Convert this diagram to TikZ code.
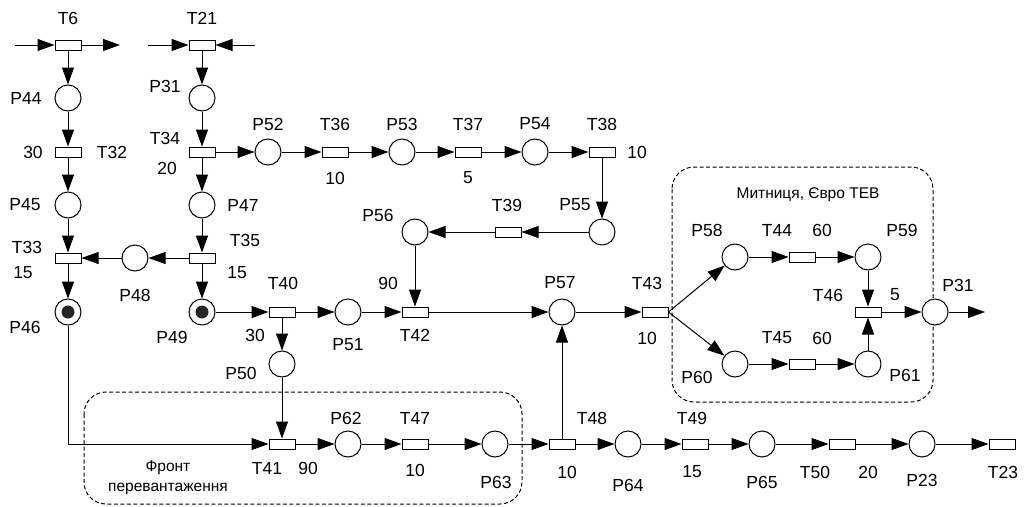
\documentclass[tikz,border=0pt]{standalone}
\usepackage{fontspec}
\setmainfont{Liberation Sans}
\usetikzlibrary{arrows.meta}
\tikzset{
  pn place/.style={
    circle,
    draw,
    fill=white,
    line width=1pt,
    minimum size=26pt,
    inner sep=0pt,
  },
  pn marked/.style={
    pn place,
    path picture={\fill[black!85] (path picture bounding box.center) circle (6.5pt);},
  },
  pn transition/.style={
    rectangle,
    draw,
    fill=white,
    line width=1pt,
    minimum width=26pt,
    minimum height=10pt,
    inner sep=0pt,
  },
  pn arc/.style={-{Triangle[length=17pt,width=12pt]}, line width=1pt},
  pn line/.style={line width=1pt},
  pn text/.style={font=\fontsize{17.5}{20}\selectfont, inner sep=0pt},
  pn note/.style={font=\fontsize{15.5}{20}\selectfont, align=center, inner sep=0pt},
  pn region/.style={line width=1pt, dash pattern=on 4pt off 2.5pt, rounded corners=22pt},
}

\begin{document}
\begin{tikzpicture}[x=1pt,y=-1pt]
  \useasboundingbox (0,0) rectangle (1024,506);

  \draw[pn region] (84,392) rectangle (522,504);
  \draw[pn region] (672,167) rectangle (933,402);
  \node[pn note] (front) at (168,478) {Фронт\\перевантаження};
  \node[pn note] (customs) at (808,195) {Митниця, Євро ТЕВ};

  \node[pn transition] (t6) at (68,45) {};
  \node[pn transition] (t21) at (202,45) {};
  \coordinate (t6in) at (15,45);
  \coordinate (t6out) at (120,45);
  \coordinate (t21inl) at (148,45);
  \coordinate (t21inr) at (255,45);

  \node[pn place] (p44) at (68,98) {};
  \node[pn transition] (t32) at (68,152) {};
  \node[pn place] (p45) at (68,205) {};
  \node[pn transition] (t33) at (68,258) {};
  \node[pn marked] (p46) at (68,312) {};

  \node[pn place] (p31a) at (202,98) {};
  \node[pn transition] (t34) at (202,152) {};
  \node[pn place] (p47) at (202,205) {};
  \node[pn transition] (t35) at (202,258) {};
  \node[pn marked] (p49) at (202,312) {};
  \node[pn place] (p48) at (135,258) {};

  \node[pn place] (p52) at (268,152) {};
  \node[pn transition] (t36) at (335,152) {};
  \node[pn place] (p53) at (402,152) {};
  \node[pn transition] (t37) at (468,152) {};
  \node[pn place] (p54) at (535,152) {};
  \node[pn transition] (t38) at (602,152) {};
  \node[pn place] (p55) at (602,232) {};
  \node[pn transition] (t39) at (508,232) {};
  \node[pn place] (p56) at (415,232) {};

  \node[pn transition] (t40) at (282,312) {};
  \node[pn place] (p51) at (348,312) {};
  \node[pn transition] (t42) at (415,312) {};
  \node[pn place] (p57) at (562,312) {};
  \node[pn transition] (t43) at (655,312) {};
  \node[pn place] (p50) at (282,364) {};

  \node[pn place] (p58) at (735,257) {};
  \node[pn transition] (t44) at (802,257) {};
  \node[pn place] (p59) at (868,257) {};
  \node[pn place] (p60) at (735,364) {};
  \node[pn transition] (t45) at (802,364) {};
  \node[pn place] (p61) at (868,364) {};
  \node[pn transition] (t46) at (868,312) {};
  \node[pn place] (p31b) at (935,312) {};
  \coordinate (p31out) at (985,312);

  \node[pn transition] (t41) at (282,444) {};
  \node[pn place] (p62) at (348,444) {};
  \node[pn transition] (t47) at (415,444) {};
  \node[pn place] (p63) at (495,444) {};
  \node[pn transition] (t48) at (562,444) {};
  \node[pn place] (p64) at (628,444) {};
  \node[pn transition] (t49) at (695,444) {};
  \node[pn place] (p65) at (762,444) {};
  \node[pn transition] (t50) at (842,444) {};
  \node[pn place] (p23) at (922,444) {};
  \node[pn transition] (t23) at (1002,444) {};

  \node[pn text] (lt6) at (68,18) {T6};
  \node[pn text] (lt21) at (202,18) {T21};
  \node[pn text] (lp44) at (26,98) {P44};
  \node[pn text] (w32) at (33,152) {30};
  \node[pn text] (lt32) at (112,152) {T32};
  \node[pn text] (lp45) at (25,205) {P45};
  \node[pn text] (lt33) at (27,247) {T33};
  \node[pn text] (w33) at (23,273) {15};
  \node[pn text] (lp46) at (25,327) {P46};
  \node[pn text] (lp31a) at (165,86) {P31};
  \node[pn text] (lt34) at (165,138) {T34};
  \node[pn text] (w34) at (167,168) {20};
  \node[pn text] (lp47) at (243,205) {P47};
  \node[pn text] (lt35) at (245,240) {T35};
  \node[pn text] (w35) at (237,273) {15};
  \node[pn text] (lp48) at (135,295) {P48};
  \node[pn text] (lp49) at (172,337) {P49};

  \node[pn text] (lp52) at (268,124) {P52};
  \node[pn text] (lt36) at (335,124) {T36};
  \node[pn text] (w36) at (335,178) {10};
  \node[pn text] (lp53) at (402,124) {P53};
  \node[pn text] (lt37) at (468,124) {T37};
  \node[pn text] (w37) at (468,178) {5};
  \node[pn text] (lp54) at (535,124) {P54};
  \node[pn text] (lt38) at (602,124) {T38};
  \node[pn text] (w38) at (637,152) {10};
  \node[pn text] (lt39) at (507,205) {T39};
  \node[pn text] (lp55) at (575,205) {P55};
  \node[pn text] (lp56) at (378,215) {P56};

  \node[pn text] (lt40) at (283,283) {T40};
  \node[pn text] (w40) at (255,335) {30};
  \node[pn text] (lp51) at (348,345) {P51};
  \node[pn text] (w42) at (388,283) {90};
  \node[pn text] (lt42) at (415,335) {T42};
  \node[pn text] (lp57) at (560,283) {P57};
  \node[pn text] (lt43) at (647,283) {T43};
  \node[pn text] (w43) at (647,338) {10};
  \node[pn text] (lp50) at (241,373) {P50};

  \node[pn text] (lp58) at (707,230) {P58};
  \node[pn text] (lt44) at (777,230) {T44};
  \node[pn text] (w44) at (822,230) {60};
  \node[pn text] (lp59) at (902,230) {P59};
  \node[pn text] (lt46) at (828,295) {T46};
  \node[pn text] (w46) at (895,295) {5};
  \node[pn text] (lp31b) at (958,285) {P31};
  \node[pn text] (lt45) at (777,338) {T45};
  \node[pn text] (w45) at (822,338) {60};
  \node[pn text] (lp60) at (697,377) {P60};
  \node[pn text] (lp61) at (905,375) {P61};

  \node[pn text] (lt41) at (267,468) {T41};
  \node[pn text] (w41) at (308,468) {90};
  \node[pn text] (lp62) at (346,418) {P62};
  \node[pn text] (lt47) at (415,418) {T47};
  \node[pn text] (w47) at (415,470) {10};
  \node[pn text] (lp63) at (496,482) {P63};
  \node[pn text] (lt48) at (592,418) {T48};
  \node[pn text] (w48) at (567,472) {10};
  \node[pn text] (lp64) at (628,485) {P64};
  \node[pn text] (lt49) at (692,418) {T49};
  \node[pn text] (w49) at (692,472) {15};
  \node[pn text] (lp65) at (762,482) {P65};
  \node[pn text] (lt50) at (815,472) {T50};
  \node[pn text] (w50) at (868,472) {20};
  \node[pn text] (lp23) at (922,480) {P23};
  \node[pn text] (lt23) at (1003,472) {T23};

  \draw[pn arc] (t6in) -- (t6);
  \draw[pn arc] (t6) -- (t6out);
  \draw[pn arc] (t21inl) -- (t21);
  \draw[pn arc] (t21inr) -- (t21);
  \draw[pn arc] (t6) -- (p44);
  \draw[pn arc] (p44) -- (t32);
  \draw[pn arc] (t32) -- (p45);
  \draw[pn arc] (p45) -- (t33);
  \draw[pn arc] (t33) -- (p46);
  \draw[pn arc] (t21) -- (p31a);
  \draw[pn arc] (p31a) -- (t34);
  \draw[pn arc] (t34) -- (p47);
  \draw[pn arc] (p47) -- (t35);
  \draw[pn arc] (t35) -- (p49);
  \draw[pn arc] (t35) -- (p48);
  \draw[pn arc] (p48) -- (t33);

  \draw[pn arc] (t34) -- (p52);
  \draw[pn arc] (p52) -- (t36);
  \draw[pn arc] (t36) -- (p53);
  \draw[pn arc] (p53) -- (t37);
  \draw[pn arc] (t37) -- (p54);
  \draw[pn arc] (p54) -- (t38);
  \draw[pn arc] (t38) -- (p55);
  \draw[pn arc] (p55) -- (t39);
  \draw[pn arc] (t39) -- (p56);
  \draw[pn arc] (p56) -- (t42);

  \draw[pn arc] (p49) -- (t40);
  \draw[pn arc] (t40) -- (p51);
  \draw[pn arc] (p51) -- (t42);
  \draw[pn arc] (t42) -- (p57);
  \draw[pn arc] (p57) -- (t43);
  \draw[pn arc] (t43.east) -- (p58);
  \draw[pn arc] (t43.east) -- (p60);
  \draw[pn arc] (t40) -- (p50);
  \draw[pn arc] (p50) -- (t41);
  \draw[pn arc] (p46) |- (t41);

  \draw[pn arc] (p58) -- (t44);
  \draw[pn arc] (t44) -- (p59);
  \draw[pn arc] (p59) -- (t46);
  \draw[pn arc] (p60) -- (t45);
  \draw[pn arc] (t45) -- (p61);
  \draw[pn arc] (p61) -- (t46);
  \draw[pn arc] (t46) -- (p31b);
  \draw[pn arc] (p31b) -- (p31out);

  \draw[pn arc] (t41) -- (p62);
  \draw[pn arc] (p62) -- (t47);
  \draw[pn arc] (t47) -- (p63);
  \draw[pn arc] (p63) -- (t48);
  \draw[pn arc] (t48) -- (p57);
  \draw[pn arc] (t48) -- (p64);
  \draw[pn arc] (p64) -- (t49);
  \draw[pn arc] (t49) -- (p65);
  \draw[pn arc] (p65) -- (t50);
  \draw[pn arc] (t50) -- (p23);
  \draw[pn arc] (p23) -- (t23);
\end{tikzpicture}
\end{document}
